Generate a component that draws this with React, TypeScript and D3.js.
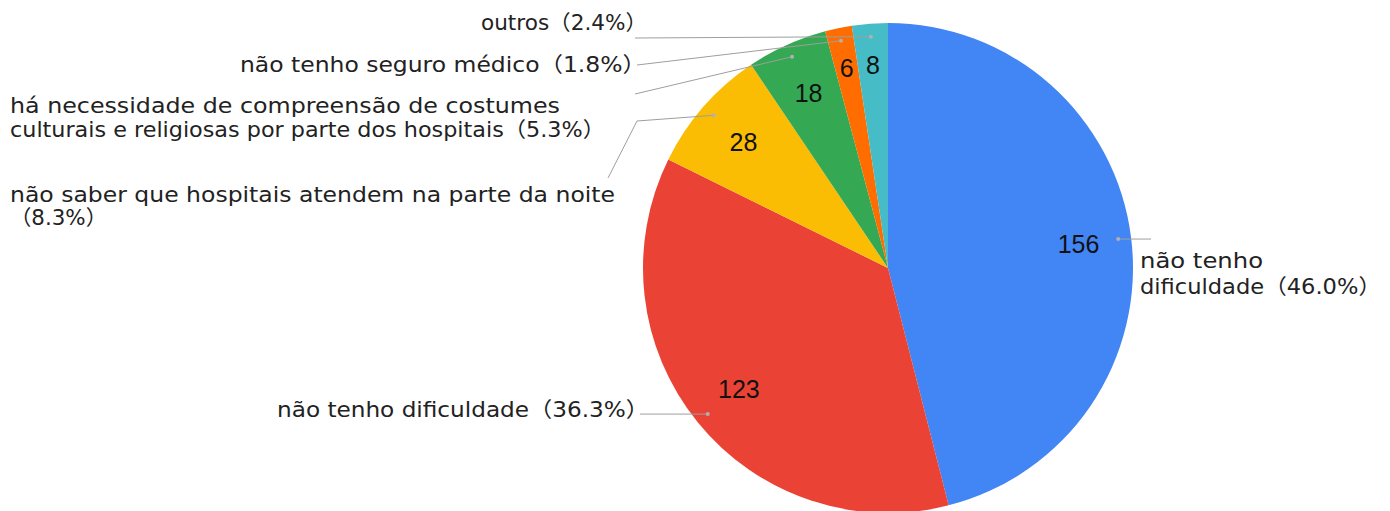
import React from "react";
import * as d3 from "d3";

const categories = [
  "não tenho dificuldade",
  "não tenho dificuldade",
  "não saber que hospitais atendem na parte da noite",
  "há necessidade de compreensão de costumes culturais e religiosas por parte dos hospitais",
  "não tenho seguro médico",
  "outros",
];
const values = [156, 123, 28, 18, 6, 8];
const percentLabels = ["46.0%", "36.3%", "8.3%", "5.3%", "1.8%", "2.4%"];
const colors = ["#4285F4", "#EA4335", "#FBBC04", "#34A853", "#FF6D01", "#46BDC6"];

// label layout (text lines, anchor, leader bends) per slice
type Line = { text: string; x: number; y: number; len: number };
type LabelLayout = { lines: Line[]; leader: [number, number | null][] };

const labelLayouts: LabelLayout[] = [
  {
    lines: [
      { text: "não tenho", x: 1140, y: 268, len: 123 },
      { text: "dificuldade（" + percentLabels[0] + "）", x: 1140, y: 294, len: 241 },
    ],
    leader: [[1151, null]],
  },
  {
    lines: [{ text: "não tenho dificuldade（" + percentLabels[1] + "）", x: 277, y: 417, len: 372 }],
    leader: [[640, null]],
  },
  {
    lines: [
      { text: "não saber que hospitais atendem na parte da noite", x: 10, y: 202, len: 605 },
      { text: "（" + percentLabels[2] + "）", x: 10, y: 225, len: 97 },
    ],
    leader: [[637, 121], [608, 178]],
  },
  {
    lines: [
      { text: "há necessidade de compreensão de costumes", x: 10, y: 113, len: 550 },
      { text: "culturais e religiosas por parte dos hospitais（" + percentLabels[3] + "）", x: 10, y: 137, len: 595 },
    ],
    leader: [[635, 94]],
  },
  {
    lines: [{ text: "não tenho seguro médico（" + percentLabels[4] + "）", x: 240, y: 72, len: 406 }],
    leader: [[637, 65]],
  },
  {
    lines: [{ text: "outros（" + percentLabels[5] + "）", x: 481, y: 30, len: 166 }],
    leader: [[635, 38]],
  },
];

const W = 1390;
const H = 511;
const cx = 888;
const cy = 268;
const R = 245;

export default function App() {
  const pie = d3
    .pie<number>()
    .sort(null)
    .value((d) => d)
    .startAngle(0)
    .endAngle(2 * Math.PI);
  const arcs = pie(values);
  const arcGen = d3.arc<d3.PieArcDatum<number>>().innerRadius(0).outerRadius(R);
  const dotArc = d3.arc<d3.PieArcDatum<number>>().innerRadius(232).outerRadius(232);

  const labelPos = (a: d3.PieArcDatum<number>) => {
    const span = a.endAngle - a.startAngle;
    const r = span < 0.2 ? 204 : 192;
    const ang = (a.startAngle + a.endAngle) / 2;
    return [r * Math.sin(ang), -r * Math.cos(ang)];
  };

  return (
    <svg
      width={W}
      height={H}
      style={{ position: "absolute", left: 0, top: 0, background: "#fff" }}
    >
      <g transform={`translate(${cx},${cy})`}>
        {arcs.map((a, i) => (
          <path key={i} d={arcGen(a) || ""} fill={colors[i]} />
        ))}
        {arcs.map((a, i) => {
          const [x, y] = labelPos(a);
          return (
            <text
              key={"n" + i}
              x={x}
              y={y}
              dy="0.36em"
              textAnchor="middle"
              fontFamily="'Liberation Sans', Arial, sans-serif"
              fontSize={25}
              fill="#111"
            >
              {values[i]}
            </text>
          );
        })}
      </g>
      {arcs.map((a, i) => {
        const [dx, dy] = dotArc.centroid(a);
        const px = cx + dx;
        const py = cy + dy;
        const pts: [number, number][] = [[px, py]];
        labelLayouts[i].leader.forEach(([lx, ly]) => pts.push([lx, ly === null ? py : ly]));
        const line = d3.line()(pts) || "";
        return (
          <g key={"l" + i}>
            <path d={line} fill="none" stroke="#9e9e9e" strokeWidth={1} />
            <circle cx={px} cy={py} r={2} fill="#b0b0b0" />
          </g>
        );
      })}
      {labelLayouts.map((lay, i) =>
        lay.lines.map((ln, j) => (
          <text
            key={"t" + i + "-" + j}
            x={ln.x}
            y={ln.y}
            fontFamily="'DejaVu Sans', 'Noto Sans CJK SC', sans-serif"
            fontSize={21}
            fill="#222"
            textLength={ln.len}
            lengthAdjust="spacingAndGlyphs"
          >
            {ln.text}
          </text>
        ))
      )}
    </svg>
  );
}
